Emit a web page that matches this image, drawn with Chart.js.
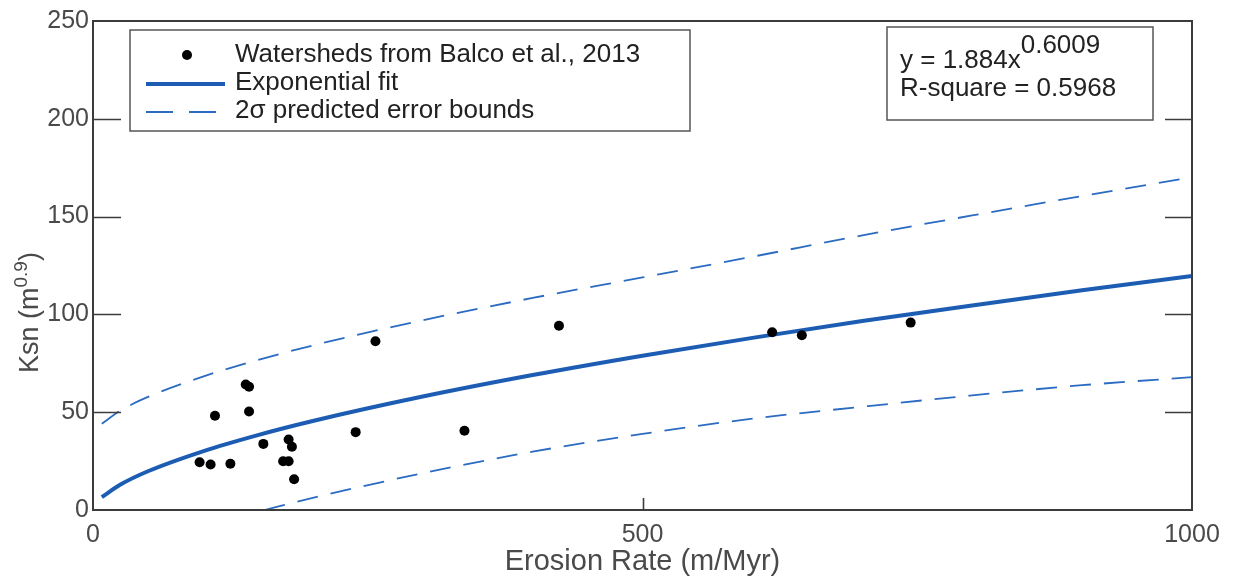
<!DOCTYPE html>
<html>
<head>
<meta charset="utf-8">
<script src="https://cdn.jsdelivr.net/npm/chart.js@4.4.1/dist/chart.umd.min.js"></script>
<style>
  html, body { margin: 0; padding: 0; background: #fff; }
  #wrap { width: 1235px; height: 582px; position: relative; }
</style>
</head>
<body>
<div id="wrap"><canvas id="chart"></canvas></div>
<script>
// ---- data ----
// watersheds (erosion rate m/Myr, Ksn)
const erosionRate = [97, 107, 111, 125, 139, 142, 142, 155, 173, 178, 178, 181, 183, 239, 257, 338, 424, 618, 645, 744];
const ksnValues   = [24.4, 23.3, 48.2, 23.6, 64.2, 63.0, 50.4, 33.8, 24.9, 24.9, 36.0, 32.3, 15.7, 39.8, 86.3, 40.5, 94.2, 90.9, 89.3, 95.8];

// exponential fit curve, sampled from the plot
const fitX = [8, 25, 50, 100, 150, 200, 300, 400, 500, 600, 700, 800, 900, 1000];
const fitY = [6.6, 13.0, 19.8, 30.0, 38.3, 45.5, 58.0, 69.0, 78.9, 88.0, 96.6, 104.6, 112.3, 119.6];

// 2 sigma bounds
const upperX = [8, 25, 50, 100, 150, 200, 300, 400, 500, 600, 700, 800, 900, 1000];
const upperY = [44.1, 50.8, 57.8, 68.2, 76.7, 84.1, 97.0, 108.4, 118.9, 129.5, 140.4, 150.6, 160.5, 170.1];
const lowerX = [156, 200, 239, 300, 400, 500, 600, 700, 800, 900, 1000];
const lowerY = [0, 6.2, 11.3, 18.8, 29.8, 38.9, 46.7, 52.8, 58.6, 63.8, 67.9];

const xTicks = [0, 500, 1000];
const yTicks = [0, 50, 100, 150, 200, 250];

const legendLabels = ['Watersheds from Balco et al., 2013', 'Exponential fit', '2σ predicted error bounds'];
const fitText = { lead: 'y = 1.884x', exp: '0.6009', r2: 'R-square = 0.5968' };

const toPts = (xs, ys) => xs.map((x, i) => ({ x: x, y: ys[i] }));

const FONT = '"Liberation Sans", Arial, Helvetica, sans-serif';
const FIT_BLUE = '#1c5db3';
const DASH_BLUE = '#2b6bc2';
const AXIS_GRAY = '#3c3c3c';
const LABEL_GRAY = '#4a4a4a';

// frame, inward ticks, legend box, fit box, y title
const decorations = {
    id: 'decorations',
    afterDraw(chart) {
        const ctx = chart.ctx;
        const area = chart.chartArea;
        const xs = chart.scales.x;
        const ys = chart.scales.y;
        ctx.save();

        // frame
        ctx.strokeStyle = AXIS_GRAY;
        ctx.lineWidth = 2;
        ctx.strokeRect(area.left, area.top, area.right - area.left, area.bottom - area.top);

        // inward ticks (left/right long, bottom short)
        ctx.lineWidth = 1.6;
        ctx.beginPath();
        yTicks.slice(1, -1).forEach(v => {
            const py = Math.round(ys.getPixelForValue(v)) + 0.5;
            ctx.moveTo(area.left, py); ctx.lineTo(area.left + 28, py);
            ctx.moveTo(area.right, py); ctx.lineTo(area.right - 27, py);
        });
        xTicks.slice(1, -1).forEach(v => {
            const px = Math.round(xs.getPixelForValue(v)) + 0.5;
            ctx.moveTo(px, area.bottom); ctx.lineTo(px, area.bottom - 12);
        });
        ctx.stroke();

        // legend box
        ctx.fillStyle = '#fff';
        ctx.fillRect(130, 30, 560, 101);
        ctx.strokeStyle = '#555';
        ctx.lineWidth = 1.5;
        ctx.strokeRect(130, 30, 560, 101);

        ctx.fillStyle = '#000';
        ctx.beginPath();
        ctx.arc(187, 55, 5, 0, Math.PI * 2);
        ctx.fill();

        ctx.strokeStyle = FIT_BLUE;
        ctx.lineWidth = 4;
        ctx.beginPath();
        ctx.moveTo(146, 84); ctx.lineTo(225, 84);
        ctx.stroke();

        ctx.strokeStyle = DASH_BLUE;
        ctx.lineWidth = 1.8;
        ctx.setLineDash([27, 16]);
        ctx.beginPath();
        ctx.moveTo(146, 112); ctx.lineTo(216, 112);
        ctx.stroke();
        ctx.setLineDash([]);

        ctx.fillStyle = '#222';
        ctx.font = '26px ' + FONT;
        ctx.textAlign = 'left';
        ctx.textBaseline = 'alphabetic';
        ctx.fillText(legendLabels[0], 235, 62);
        ctx.fillText(legendLabels[1], 235, 90);
        ctx.fillText(legendLabels[2], 235, 118);

        // fit equation box
        ctx.fillStyle = '#fff';
        ctx.fillRect(887, 27, 266, 93);
        ctx.strokeStyle = '#555';
        ctx.lineWidth = 1.5;
        ctx.strokeRect(887, 27, 266, 93);
        ctx.fillStyle = '#222';
        ctx.fillText(fitText.lead, 900, 68);
        const leadW = ctx.measureText(fitText.lead).width;
        ctx.fillText(fitText.exp, 900 + leadW, 53);
        ctx.fillText(fitText.r2, 900, 96);

        // y axis title with superscript
        ctx.translate(38, 373);
        ctx.rotate(-Math.PI / 2);
        ctx.fillStyle = LABEL_GRAY;
        ctx.font = '27px ' + FONT;
        const base = 'Ksn (m';
        ctx.fillText(base, 0, 0);
        let w = ctx.measureText(base).width;
        ctx.font = '19px ' + FONT;
        ctx.fillText('0.9', w, -11);
        w += ctx.measureText('0.9').width;
        ctx.font = '27px ' + FONT;
        ctx.fillText(')', w, 0);

        ctx.restore();
    }
};

new Chart(document.getElementById('chart'), {
    type: 'scatter',
    data: {
        datasets: [
            {
                label: legendLabels[0],
                data: toPts(erosionRate, ksnValues),
                pointRadius: 5,
                pointBackgroundColor: '#000',
                pointBorderWidth: 0,
                showLine: false,
                order: 0
            },
            {
                label: legendLabels[1],
                data: toPts(fitX, fitY),
                showLine: true,
                pointRadius: 0,
                borderColor: FIT_BLUE,
                borderWidth: 4,
                cubicInterpolationMode: 'monotone',
                order: 1
            },
            {
                label: legendLabels[2],
                data: toPts(upperX, upperY),
                showLine: true,
                pointRadius: 0,
                borderColor: DASH_BLUE,
                borderWidth: 1.8,
                borderDash: [21, 13],
                cubicInterpolationMode: 'monotone',
                order: 2
            },
            {
                label: legendLabels[2] + ' (lower)',
                data: toPts(lowerX, lowerY),
                showLine: true,
                pointRadius: 0,
                borderColor: DASH_BLUE,
                borderWidth: 1.8,
                borderDash: [21, 13],
                cubicInterpolationMode: 'monotone',
                order: 2
            }
        ]
    },
    options: {
        responsive: true,
        maintainAspectRatio: false,
        animation: false,
        layout: { padding: { left: 0, right: 43, top: 21, bottom: 0 } },
        scales: {
            x: {
                type: 'linear',
                min: 0,
                max: 1000,
                afterBuildTicks: s => { s.ticks = xTicks.map(v => ({ value: v })); },
                afterFit: s => { s.height = 72; },
                grid: { display: false, drawTicks: false },
                border: { display: false },
                ticks: {
                    color: LABEL_GRAY,
                    font: { family: FONT, size: 25 },
                    padding: 10,
                    maxRotation: 0,
                    callback: v => String(v)
                },
                title: {
                    display: true,
                    text: 'Erosion Rate (m/Myr)',
                    color: LABEL_GRAY,
                    font: { family: FONT, size: 29 },
                    padding: { top: 0, bottom: 3 }
                }
            },
            y: {
                type: 'linear',
                min: 0,
                max: 250,
                afterBuildTicks: s => { s.ticks = yTicks.map(v => ({ value: v })); },
                afterFit: s => { s.width = 93; },
                grid: { display: false, drawTicks: false },
                border: { display: false },
                ticks: {
                    color: LABEL_GRAY,
                    font: { family: FONT, size: 25 },
                    padding: 4,
                    callback: v => String(v)
                }
            }
        },
        plugins: {
            legend: { display: false },
            tooltip: { enabled: false }
        }
    },
    plugins: [decorations]
});
</script>
</body>
</html>
